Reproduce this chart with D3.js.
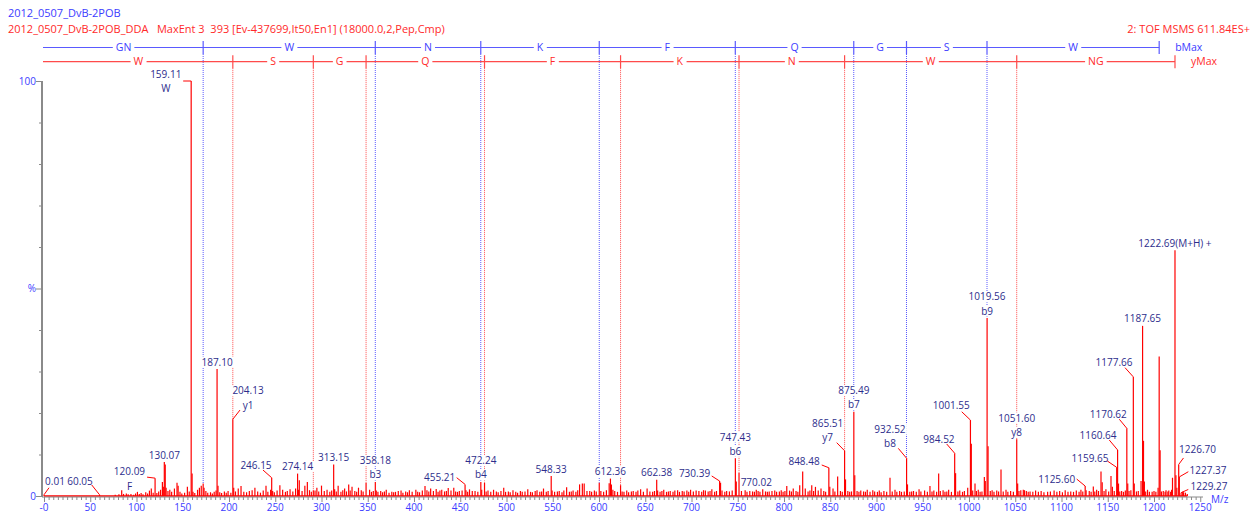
<!DOCTYPE html>
<html><head><meta charset="utf-8">
<script src="https://cdn.jsdelivr.net/npm/d3@7"></script>
<style>
html,body{margin:0;padding:0;background:#fff;}
svg{display:block;}
text{font-family:"Open Sans",sans-serif;}
</style></head><body>
<svg id="chart" width="1258" height="514"></svg>
<script>
// ---------------- DATA ----------------
const headerLine1 = "2012_0507_DvB-2POB";
const headerLine2 = "2012_0507_DvB-2POB_DDA   MaxEnt 3  393 [Ev-437699,It50,En1] (18000.0,2,Pep,Cmp)";
const headerRight = "2: TOF MSMS 611.84ES+";
const xAxisTitle = "M/z";

const xTickValues = [0,50,100,150,200,250,300,350,400,450,500,550,600,650,700,750,800,850,900,950,1000,1050,1100,1150,1200,1250];
const xTickLabels = ["-0","50","100","150","200","250","300","350","400","450","500","550","600","650","700","750","800","850","900","950","1000","1050","1100","1150","1200","1250"];
const yTickValues = [0,50,100];
const yTickLabels = ["0","%","100"];

const bResidues = ["GN","W","N","K","F","Q","G","S","W"];
const bIonMz = [0,172.07,358.15,472.19,600.28,747.35,875.41,932.43,1019.46,1205.6];
const bEndLabel = "bMax";
const yResidues = ["W","S","G","Q","F","K","N","W","NG"];
const yIonMz = [0,204.13,291.16,348.18,476.24,623.31,751.37,865.51,1051.60,1222.69];
const yEndLabel = "yMax";

// labelled peaks: [m/z, intensity %, label, ion annotation]
const labeledPeaks = [
 [0.01, 0.3, "0.01", ""],
 [60.05, 0.3, "60.05", ""],
 [120.09, 4.3, "120.09", "F"],
 [130.07, 8.2, "130.07", ""],
 [159.11, 100, "159.11", "W"],
 [187.10, 30.6, "187.10", ""],
 [204.13, 18.5, "204.13", "y1"],
 [246.15, 4.4, "246.15", ""],
 [274.14, 5.4, "274.14", ""],
 [313.15, 7.6, "313.15", ""],
 [358.18, 3.4, "358.18", "b3"],
 [455.21, 2.8, "455.21", ""],
 [472.24, 3.4, "472.24", "b4"],
 [548.33, 4.8, "548.33", ""],
 [612.36, 4.2, "612.36", ""],
 [662.38, 3.9, "662.38", ""],
 [730.39, 3.6, "730.39", ""],
 [747.43, 9.1, "747.43", "b6"],
 [770.02, 1.5, "770.02", ""],
 [848.48, 6.8, "848.48", ""],
 [865.51, 10.9, "865.51", "y7"],
 [875.49, 20.3, "875.49", "b7"],
 [932.52, 9.1, "932.52", "b8"],
 [984.52, 10.3, "984.52", ""],
 [1001.55, 18.3, "1001.55", ""],
 [1019.56, 42.9, "1019.56", "b9"],
 [1051.60, 13.7, "1051.60", "y8"],
 [1125.60, 2.4, "1125.60", ""],
 [1159.65, 6.9, "1159.65", ""],
 [1160.64, 11.1, "1160.64", ""],
 [1170.62, 16.3, "1170.62", ""],
 [1177.66, 28.7, "1177.66", ""],
 [1187.65, 41.0, "1187.65", ""],
 [1222.69, 59.2, "1222.69(M+H) +", ""],
 [1226.70, 7.6, "1226.70", ""],
 [1227.37, 4.6, "1227.37", ""],
 [1229.27, 0.8, "1229.27", ""]
];

// unlabelled peaks: [m/z, intensity %]
const minorPeaks = [
 [77,0.3],[81,0.4],[84,1.4],[86,0.5],[89,0.6],[91,0.4],[94,0.5],[97,0.3],[99,0.6],
 [101,1.0],[103,0.5],[105,0.7],[107,0.4],[110,0.9],[112,0.6],[114,1.3],[116,1.8],[118,0.8],[122,0.7],[124,1.1],[126,1.5],[128,3.4],[129,2.2],[131.07,7.6],[132,2.0],[134,1.2],[136,1.5],[138,1.0],[141,1.8],[143.8,3.2],[145,2.5],[147,1.0],[149,0.6],
 [152,0.8],[155,2.2],[157,1.1],[160.1,5.4],[161.1,1.0],[163,0.7],[166,1.5],[168,2.0],[170,2.5],[172.07,3.0],[173,2.0],[175,1.2],[177,0.8],[180,0.9],[182,0.6],[184,1.0],[186,1.3],[188.1,2.5],[190,0.9],[192,0.7],[195,1.1],[197,0.8],[199,1.2],
 [202,0.8],[205.1,2.0],[207,1.1],[210,1.8],[213,2.4],[216,1.0],[219,0.9],[222,1.2],[225,1.4],[228,2.0],[231,1.1],[234,0.8],[237,1.3],[240,2.5],[242,1.0],[245,1.5],[247.2,1.2],[249,0.9],
 [252,1.3],[255,2.6],[258,1.5],[261,1.0],[263,1.2],[266,1.6],[269,1.1],[272,1.8],[275.1,1.5],[276,3.8],[279,1.2],[282,2.5],[284.7,3.4],[287,1.4],[289,1.0],[291.16,1.4],[293,1.3],[295,2.0],[297,1.1],[300,2.5],
 [303,1.2],[306,1.5],[309,1.0],[311,1.3],[314.2,1.6],[316,1.1],[318,2.5],[321,1.0],[323,1.4],[325,1.8],[327,1.1],[329.4,2.8],[331,1.3],[333,2.2],[336,1.2],[338,1.0],[340,2.0],[343,1.4],[345,1.1],[348.18,3.2],
 [352,1.5],[354,1.0],[356,1.2],[359.2,1.3],[361,1.0],[364,1.2],[366,0.9],[368,1.1],[370,1.5],[373,0.8],[376,1.0],[378,0.9],[380,1.0],[383,1.2],[386,1.3],[388,0.8],[391,1.1],[393,0.9],[395,1.4],[398,1.0],
 [402,1.5],[404,1.0],[406,0.9],[409,1.3],[411.9,2.4],[414,1.4],[416,1.1],[418,1.8],[421,1.2],[424,1.7],[426,1.0],[428,1.3],[430,1.5],[433,1.1],[435,1.2],[437,1.9],[440,1.3],[443,2.0],[445,1.1],[447,1.0],[449,1.2],
 [452,1.3],[456.2,1.4],[458,1.0],[460,1.6],[463,1.2],[466,1.2],[469,1.0],[473.2,1.5],[476.24,3.2],[478,1.1],[480,1.3],[483,1.0],[486,1.5],[489,1.1],[491,0.9],[494,1.2],[497,2.0],[499,1.0],
 [502,1.1],[504,0.9],[507,1.4],[510,1.0],[512,0.8],[515,1.2],[517,1.0],[520,1.1],[523,1.6],[526,1.0],[528,0.9],[531,1.2],[533,1.4],[536,1.0],[538,1.1],[540,1.8],[543,1.0],[545,1.2],[549.3,1.3],
 [552,1.0],[555,1.1],[557,1.2],[560,0.9],[562,1.3],[565,2.1],[568,1.0],[570,1.1],[572,1.3],[575,1.0],[577,1.4],[579,2.8],[582,3.0],[584,3.0],[587,1.2],[590,1.2],[592,1.0],[595,1.3],[597,1.1],[600.28,3.2],
 [602,1.2],[605,1.0],[608,1.4],[611,3.1],[613.4,2.8],[615,1.5],[617,1.2],[620,1.0],[623.31,2.6],[625,1.1],[627,1.0],[630,1.3],[632,0.9],[635,1.1],[637,1.2],[640,1.0],[642,1.3],[645,1.6],[648,1.0],
 [652,1.8],[655,1.1],[658,1.0],[660,1.2],[663.4,1.3],[666,1.0],[668,1.2],[670,1.5],[673,1.0],[675,1.1],[677,1.2],[680,1.0],[682,1.3],[685,1.4],[687,1.0],[690,1.2],[692,1.1],[695,1.3],[697,1.0],[699,1.5],
 [702,1.1],[705,1.3],[708,1.2],[711,1.0],[713,1.4],[715,1.3],[718,1.1],[720,1.2],[722,1.6],[725,1.0],[727,1.2],[731.4,3.2],[733,1.3],[736,1.0],[738,1.2],[741,1.1],[744,1.3],[748.4,3.5],[751.37,5.6],
 [754,1.2],[758,1.4],[760,1.0],[763,1.2],[766,1.1],[768,1.0],[772,1.2],[774,1.0],[777,1.6],[780,1.1],[782,1.0],[784,1.1],[787,1.2],[790,1.3],[792,1.0],[795,1.1],[797,1.4],[799,1.0],
 [801,1.2],[803,2.4],[806,1.3],[808,1.1],[810,1.8],[813,1.2],[815,1.0],[817,2.6],[820.2,5.9],[823,1.8],[826,1.1],[828,1.3],[830,2.6],[832,1.2],[834,2.2],[837,1.3],[840,1.8],[843,1.2],[845,1.0],[849.5,2.2],
 [853,1.8],[855,1.1],[858,4.7],[861,1.2],[863,1.0],[866.5,4.0],[869,1.2],[871,1.0],[873,1.1],[876.5,5.0],[879,1.2],[881,1.0],[883,1.3],[886,1.1],[888,1.0],[890,1.5],[893,1.0],[896,1.4],[898,1.1],
 [901,1.0],[903,1.3],[905,0.9],[908,1.2],[911,1.0],[914.6,4.4],[917,1.1],[920,1.5],[922,1.0],[925,1.2],[927,1.0],[930,1.1],[933.5,2.8],[936,1.0],[938,1.1],[940,1.2],[943,1.0],[946,1.6],[948,1.1],
 [952,1.3],[955,1.0],[957.8,2.4],[960,1.1],[962,1.3],[965,1.0],[967.2,5.4],[969,1.2],[972,1.4],[974,1.0],[976,1.1],[978,1.5],[981,1.0],[985.5,5.5],[988,1.1],[990,1.3],[993,1.0],[995,1.2],[998.6,2.0],
 [1002.5,12.6],[1004,1.3],[1006.5,3.0],[1008,1.2],[1010,1.5],[1012,1.0],[1014,1.1],[1016.6,4.6],[1017.6,3.6],[1020.6,12.0],[1023,1.2],[1025,1.4],[1027,1.0],[1030,1.3],[1032,1.1],[1034.6,6.4],[1037,1.1],[1040,1.5],[1042,1.0],[1045,1.2],[1048,1.0],
 [1052.6,3.0],[1054,1.2],[1056,1.4],[1058.7,1.5],[1060,1.4],[1062,1.2],[1064,1.0],[1066,1.1],[1069,1.0],[1072,1.3],[1075,1.0],[1078,1.2],[1081,0.9],[1085,1.0],[1088,1.1],[1092,1.3],[1095,1.0],[1098,1.2],
 [1101,0.9],[1104,1.4],[1107,1.0],[1110,1.1],[1113,1.0],[1116,1.3],[1119,1.0],[1121,1.5],[1123,1.1],[1126.6,1.4],[1130,1.2],[1132,1.0],[1134.4,2.3],[1136,1.1],[1138,1.5],[1140,1.2],[1142.7,5.9],[1144,3.3],[1146,1.2],[1148,1.6],
 [1151,1.1],[1153.5,4.8],[1155,2.2],[1157,1.2],[1161.64,3.0],[1163,1.1],[1165,1.2],[1167,1.0],[1169,1.3],[1171.62,3.0],[1173,1.2],[1175,1.4],[1178.66,3.0],[1181,1.1],[1183,1.2],[1186,3.6],[1188.65,13.3],[1189.6,3.5],[1191,1.1],[1193,1.5],[1195,1.0],[1198,1.0],
 [1200,1.2],[1202,1.0],[1204.4,2.0],[1205.6,33.6],[1206.6,11.0],[1208,1.1],[1210,1.2],[1212,1.0],[1213,1.4],[1215,1.1],[1216,1.3],[1218,1.0],[1219,1.5],[1220,4.4],[1223.69,5.0],[1224.7,2.0],[1231,1.0],[1232,0.9],[1234,0.8],[1236,0.5]
];

// ---------------- LAYOUT (label placement, px offsets from the peak top) ----------------
// [dx, dy] = centre of the lowest label line; [lx, ly] = leader end (absent = label straight above)
const labelPlacement = {
 "0.01":[11,-13.8,5,-7], "60.05":[-19.5,-13.8,-7.8,-9.8], "120.09":[-25.6,7.8,-8,-1],
 "159.11":[-25.4,7.3,-8,0], "204.13":[15.2,-14.2,7.2,-9.2], "246.15":[-15.7,-12.7,-8.7,-7.7],
 "455.21":[-25.4,-7.1,-8.4,-6.7], "730.39":[-25.1,-7.8,-7.9,-5.1], "848.48":[-24.8,-6.1,-7.1,-2.8],
 "865.51":[-16.9,-13.1,-7.9,-8.1], "932.52":[-16.6,-14.9,-8.3,-9.9], "984.52":[-15.7,-14.3,-8,-9.3],
 "1001.55":[-19.1,-14.3,-8.7,-8.3], "1125.60":[-28.5,-7,-8.5,-7], "1159.65":[-26.7,-9.1,-9.4,-6.4],
 "1160.64":[-19.6,-14.9,-8.3,-9.9], "1170.62":[-18.5,-14.4,-7.5,-9.1], "1177.66":[-19.3,-14.6,-8.3,-9.2],
 "1226.70":[18.8,-15.2,4.8,-6.5], "1227.37":[28.7,-6.2,9,-5.2], "1229.27":[27.9,-6.2,7.2,-3.2]
};

// ---------------- DRAW ----------------
const svg = d3.select("#chart");
const RED = "#ff0000", BLUE = "#3c3cff", NAVY = "#2d2d8c", GRAY = "#8a8a8a";

const x = d3.scaleLinear().domain([0,1250]).range([44,1200.25]);
const y = d3.scaleLinear().domain([0,100]).range([496,81]);

// header
svg.append("text").attr("x",8).attr("y",17).attr("fill",BLUE).attr("font-size",11).text(headerLine1);
svg.append("text").attr("x",8).attr("y",33).attr("fill","#ff2a2a").attr("font-size",11).style("white-space","pre").text(headerLine2);
svg.append("text").attr("x",1250).attr("y",33).attr("text-anchor","end").attr("fill","#ff2a2a").attr("font-size",11).text(headerRight);

const allPeaks = labeledPeaks.map(d=>({mz:d[0],int:d[1]})).concat(minorPeaks.map(d=>({mz:d[0],int:d[1]})));
function intensityAt(mz){
  let best=null, bd=1e9;
  allPeaks.forEach(p=>{const dd=Math.abs(p.mz-mz); if(dd<bd){bd=dd;best=p;}});
  return (best && bd<0.6)? best.int : 0;
}

const gDots = svg.append("g");
const gRows = svg.append("g");
const gRowLab = svg.append("g");
const gLabBg = svg.append("g");
const gLab = svg.append("g");
const gPeaks = svg.append("g");
const gLead = svg.append("g");
const gAxes = svg.append("g");

// fragment ladders
const ladders = [
  {res:bResidues, mz:bIonMz, yy:47.5, line:"#5a5aff", txt:"#3c3cff", end:bEndLabel},
  {res:yResidues, mz:yIonMz, yy:61.7, line:"#ff4a4a", txt:"#ff2a2a", end:yEndLabel}
];
ladders.forEach(L=>{
  const last = L.mz[L.mz.length-1];
  gRows.append("line").attr("x1",x(0)-1).attr("x2",x(last)).attr("y1",L.yy).attr("y2",L.yy)
    .attr("stroke",L.line).attr("stroke-width",1.2);
  gRows.selectAll(null).data(L.mz.slice(1)).join("line")
    .attr("x1",d=>x(d)).attr("x2",d=>x(d)).attr("y1",L.yy-6.5).attr("y2",L.yy+6.5)
    .attr("stroke",L.line).attr("stroke-width",1.2);
  gDots.selectAll(null).data(L.mz.slice(1,-1)).join("line")
    .attr("x1",d=>x(d)).attr("x2",d=>x(d)).attr("y1",L.yy+6.5).attr("y2",d=>y(intensityAt(d)))
    .attr("stroke",L.line).attr("stroke-width",1).attr("stroke-dasharray","1,1");
  L.res.forEach((r,i)=>{
    const cx = x((L.mz[i]+L.mz[i+1])/2);
    const t = gRowLab.append("text").attr("x",cx).attr("y",L.yy).attr("dy","0.36em")
      .attr("text-anchor","middle").attr("fill",L.txt).attr("font-size",10.5).text(r);
    const bb = t.node().getBBox();
    gRowLab.insert("rect","text").attr("x",bb.x-3).attr("y",L.yy-4).attr("width",bb.width+6).attr("height",8).attr("fill","#fff");
  });
  gRowLab.append("text").attr("x",x(last)+16).attr("y",L.yy).attr("dy","0.36em")
    .attr("fill",L.txt).attr("font-size",10.5).text(L.end);
});

// peak labels
labeledPeaks.forEach(d=>{
  const [mz,it,lab,ion] = d;
  const px = x(mz), py = y(it);
  const pl = labelPlacement[mz.toFixed(2)];
  const dx = pl? pl[0] : 0, dy = pl? pl[1] : -7;
  const lines = ion ? [lab, ion] : [lab];
  lines.forEach((s,k)=>{
    const cy = py + dy - (lines.length-1-k)*14.2;
    const t = gLab.append("text").attr("x",px+dx).attr("y",cy).attr("dy","0.36em")
      .attr("text-anchor","middle").attr("fill",NAVY).attr("font-size",10).text(s);
    const bb = t.node().getBBox();
    gLabBg.append("rect").attr("x",bb.x-1).attr("y",cy-5.5).attr("width",bb.width+2).attr("height",11).attr("fill","#fff");
  });
  if(pl){
    gLead.append("line").attr("x1",px).attr("y1",py).attr("x2",px+pl[2]).attr("y2",py+pl[3])
      .attr("stroke",RED).attr("stroke-width",1);
  }
});

// spectrum baseline + sticks
gPeaks.append("line").attr("x1",x(0)).attr("x2",x(1236)).attr("y1",y(0)).attr("y2",y(0))
  .attr("stroke",RED).attr("stroke-width",1.3);
gPeaks.selectAll(null).data(allPeaks).join("line")
  .attr("x1",d=>x(d.mz)).attr("x2",d=>x(d.mz)).attr("y1",y(0)).attr("y2",d=>y(d.int))
  .attr("stroke",RED).attr("stroke-width",1.2);

// axes
const yAxis = d3.axisLeft(y).tickValues(d3.range(0,101,10)).tickSize(3).tickFormat("");
const ga = gAxes.append("g").attr("transform","translate(42,0)").call(yAxis);
ga.select(".domain").attr("stroke",GRAY).attr("stroke-width",2).attr("d","M0,81V497");
ga.selectAll(".tick line").attr("stroke",GRAY).attr("x2",d=>d%50===0?-6:-3);
yTickValues.forEach((v,i)=>{
  gAxes.append("text").attr("x",36).attr("y",y(v)).attr("dy","0.36em").attr("text-anchor","end")
    .attr("fill",BLUE).attr("font-size",10).text(yTickLabels[i]);
});

const xAxis = d3.axisBottom(x).tickValues(d3.range(0,1251,5)).tickSize(3).tickFormat("");
const gx = gAxes.append("g").attr("transform","translate(0,497)").call(xAxis);
gx.select(".domain").attr("stroke",GRAY).attr("stroke-width",1).attr("d","M42,0H1203");
gx.selectAll(".tick line").attr("stroke",GRAY).attr("y2",d=>d%50===0?5:3);
xTickValues.forEach((v,i)=>{
  gAxes.append("text").attr("x",x(v)).attr("y",511).attr("text-anchor","middle")
    .attr("fill",BLUE).attr("font-size",10).text(xTickLabels[i]);
});
gAxes.append("text").attr("x",1211).attr("y",499).attr("dy","0.36em").attr("fill",BLUE).attr("font-size",10).text(xAxisTitle);
</script>
</body></html>
